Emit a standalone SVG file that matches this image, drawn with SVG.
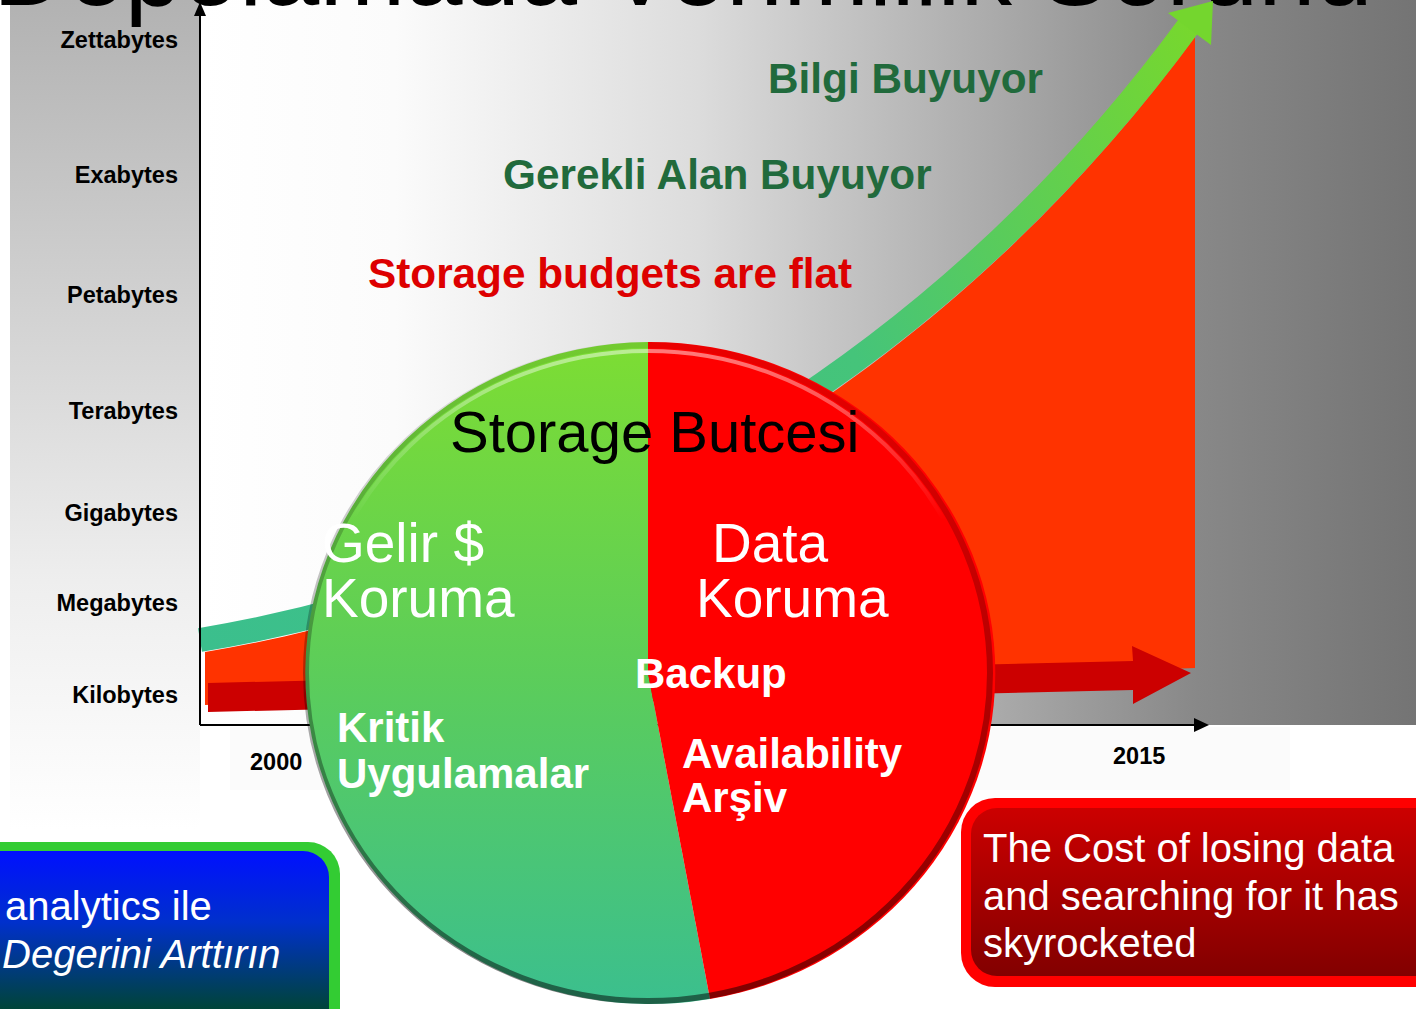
<svg xmlns="http://www.w3.org/2000/svg" width="1416" height="1009" viewBox="0 0 1416 1009">
<defs>
<linearGradient id="gChart" gradientUnits="userSpaceOnUse" x1="200" y1="0" x2="1416" y2="0">
<stop offset="0" stop-color="#ffffff"/>
<stop offset="0.16" stop-color="#fbfbfb"/>
<stop offset="0.41" stop-color="#dcdcdc"/>
<stop offset="0.66" stop-color="#a9a9a9"/>
<stop offset="0.82" stop-color="#888888"/>
<stop offset="1" stop-color="#747474"/>
</linearGradient>
<linearGradient id="gLeft" gradientUnits="userSpaceOnUse" x1="0" y1="0" x2="0" y2="830">
<stop offset="0" stop-color="#b2b2b2"/>
<stop offset="0.7" stop-color="#eeeeee"/>
<stop offset="1" stop-color="#ffffff"/>
</linearGradient>
<linearGradient id="gBand" gradientUnits="userSpaceOnUse" x1="200" y1="640" x2="1200" y2="20">
<stop offset="0" stop-color="#3bbf8d"/>
<stop offset="0.6" stop-color="#45c47a"/>
<stop offset="1" stop-color="#78d82c"/>
</linearGradient>
<linearGradient id="gGreen" gradientUnits="userSpaceOnUse" x1="0" y1="342" x2="0" y2="1005">
<stop offset="0" stop-color="#7ddd33"/>
<stop offset="0.5" stop-color="#5ccd5a"/>
<stop offset="1" stop-color="#3bbf8e"/>
</linearGradient>
<linearGradient id="gRim" gradientUnits="userSpaceOnUse" x1="0" y1="342" x2="0" y2="1005">
<stop offset="0" stop-color="#000000" stop-opacity="0.08"/>
<stop offset="1" stop-color="#000000" stop-opacity="0.5"/>
</linearGradient>
<linearGradient id="gHi" gradientUnits="userSpaceOnUse" x1="0" y1="342" x2="0" y2="520">
<stop offset="0" stop-color="#ffffff" stop-opacity="0.5"/>
<stop offset="1" stop-color="#ffffff" stop-opacity="0"/>
</linearGradient>
<linearGradient id="gBlue" gradientUnits="userSpaceOnUse" x1="0" y1="851" x2="0" y2="1009">
<stop offset="0" stop-color="#0010ff"/>
<stop offset="0.45" stop-color="#0030cc"/>
<stop offset="1" stop-color="#004438"/>
</linearGradient>
<linearGradient id="gRed" gradientUnits="userSpaceOnUse" x1="0" y1="808" x2="0" y2="976">
<stop offset="0" stop-color="#cc0000"/>
<stop offset="1" stop-color="#820000"/>
</linearGradient>
<style>
.ax{font-family:"Liberation Sans",Arial,sans-serif;font-weight:bold;font-size:23.5px;fill:#000;text-anchor:end}
.yr{font-family:"Liberation Sans",Arial,sans-serif;font-weight:bold;font-size:23.5px;fill:#000}
.hd{font-family:"Liberation Sans",Arial,sans-serif;font-weight:bold;font-size:42.3px}
.pw{font-family:"Liberation Sans",Arial,sans-serif;font-size:55px;fill:#fff}
.pb{font-family:"Liberation Sans",Arial,sans-serif;font-weight:bold;font-size:42px;fill:#fff}
.bx{font-family:"Liberation Sans",Arial,sans-serif;font-size:40px;fill:#fff}
</style>
</defs>

<g id="background">
<rect x="0" y="0" width="1416" height="1009" fill="#ffffff"/>
<rect x="10" y="0" width="190" height="830" fill="url(#gLeft)"/>
<rect x="200" y="0" width="1216" height="725" fill="url(#gChart)"/>
<rect x="230" y="727" width="1060" height="63" fill="#fbfbfb"/>
</g>

<g id="title">
<text x="-7" y="5" font-family="'Liberation Sans',Arial,sans-serif" font-size="103" fill="#000">Depolamada Verimlilik Sorunu</text>
</g>

<g id="growth-chart">
<path d="M205,652 C505,602 905,432 1195,37 L1195,668 L205,705 Z" fill="#ff3300"/>
<polygon points="208,683 1133,661 1132,646 1191,673 1133,704 1133,690 208,712" fill="#cc0000"/>
<path d="M200,640 C500,590 900,420 1190,24" fill="none" stroke="url(#gBand)" stroke-width="24"/>
<polygon points="1168,13 1213,1 1211,45" fill="#74d62e"/>
</g>

<g id="connectors">
<line x1="200" y1="725" x2="200" y2="12" stroke="#000" stroke-width="2"/>
<polygon points="200,2 194,16 206,16" fill="#000"/>
<line x1="200" y1="725" x2="1196" y2="725" stroke="#000" stroke-width="2"/>
<polygon points="1209,725 1194,718 1194,732" fill="#000"/>
</g>

<g id="axis-labels">
<text class="ax" x="178" y="48">Zettabytes</text>
<text class="ax" x="178" y="183">Exabytes</text>
<text class="ax" x="178" y="303">Petabytes</text>
<text class="ax" x="178" y="419">Terabytes</text>
<text class="ax" x="178" y="521">Gigabytes</text>
<text class="ax" x="178" y="611">Megabytes</text>
<text class="ax" x="178" y="703">Kilobytes</text>
<text class="yr" x="250" y="770">2000</text>
<text class="yr" x="1113" y="764">2015</text>
</g>

<g id="headlines">
<text class="hd" x="768" y="93" fill="#216a3c">Bilgi Buyuyor</text>
<text class="hd" x="503" y="189" fill="#216a3c">Gerekli Alan Buyuyor</text>
<text class="hd" x="368" y="288" fill="#dd0000">Storage budgets are flat</text>
</g>

<g id="box-analytics">
<rect x="-40" y="842" width="380" height="200" rx="32" fill="#33cc33"/>
<rect x="-40" y="851" width="369" height="190" rx="26" fill="url(#gBlue)"/>
<text class="bx" x="5" y="920">analytics ile</text>
<text class="bx" x="2" y="968" font-style="italic">Degerini Arttırın</text>
</g>

<g id="box-cost">
<rect x="961" y="798" width="500" height="189" rx="34" fill="#ff0000"/>
<rect x="971" y="808" width="490" height="168" rx="26" fill="url(#gRed)"/>
<text class="bx" x="983" y="862">The Cost of losing data</text>
<text class="bx" x="983" y="910">and searching for it has</text>
<text class="bx" x="983" y="957">skyrocketed</text>
</g>

<g id="pie">
<path d="M648,673 L648,342 A345,331 0 1 0 710,999 Z" fill="url(#gGreen)"/>
<path d="M648,673 L648,342 A345,331 0 0 1 710,999 Z" fill="#ff0000"/>
<ellipse cx="648" cy="673" rx="342" ry="328" fill="none" stroke="url(#gRim)" stroke-width="6"/>
<ellipse cx="648" cy="673" rx="336" ry="322" fill="none" stroke="url(#gHi)" stroke-width="4"/>
<text x="450" y="452" font-family="'Liberation Sans',Arial,sans-serif" font-size="58" fill="#000">Storage Butcesi</text>
<text class="pw" x="322" y="562">Gelir $</text>
<text class="pw" x="322" y="617">Koruma</text>
<text class="pw" x="712" y="562">Data</text>
<text class="pw" x="696" y="617">Koruma</text>
<text class="pb" x="635" y="688">Backup</text>
<text class="pb" x="337" y="742">Kritik</text>
<text class="pb" x="337" y="788">Uygulamalar</text>
<text class="pb" x="682" y="768">Availability</text>
<text class="pb" x="682" y="812">Arşiv</text>
</g>
</svg>
